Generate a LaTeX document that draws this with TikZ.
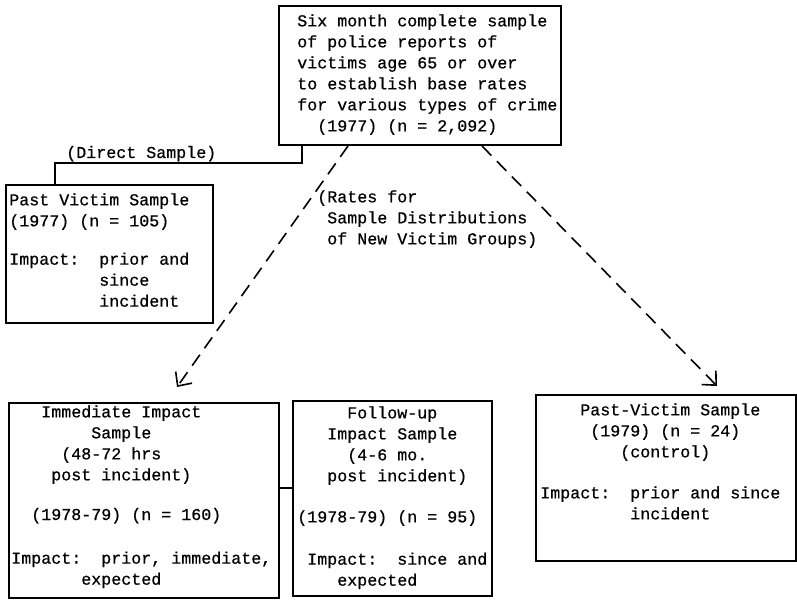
\documentclass[tikz,border=0pt]{standalone}
\usepackage{fontspec}
\newfontfamily\typew[FakeBold=0.6]{Liberation Mono}
\usetikzlibrary{arrows.meta}
\newcommand{\ind}[1]{\hspace*{\dimexpr0.6em*#1\relax}}

\begin{document}
\begin{tikzpicture}[
    x=0.75pt,
    y=-0.75pt,
    box/.style={
        draw,
        line width=1.5pt,
        anchor=north west,
        inner sep=0pt
    },
    txt/.style={
        anchor=north west,
        inner sep=0pt,
        align=left,
        font=\typew\fontsize{12.5}{15.75}\selectfont
    },
    link/.style={line width=1.5pt},
    arrow/.style={-{Straight Barb[length=8pt,width=15pt]}, line width=1.2pt, dash pattern=on 10pt off 6pt}
]
    \path[use as bounding box, fill=white] (0,0) rectangle (797,602);

    \node[box, minimum width=211.5pt, minimum height=104.25pt] (base) at (278,5) {};
    \node[box, minimum width=155.25pt, minimum height=103.5pt] (past) at (5,184) {};
    \node[box, minimum width=202.5pt, minimum height=146.25pt] (imm) at (8,402) {};
    \node[box, minimum width=149.25pt, minimum height=146.25pt] (fol) at (292,400) {};
    \node[box, minimum width=195pt, minimum height=124.5pt] (ctl) at (535,394) {};

    \node[txt] (basetxt) at (297,14) {Six month complete sample\\of police reports of\\victims age 65 or over\\to establish base rates\\for various types of crime\\\ind{2}(1977) (n = 2,092)};
    \node[txt] (pasttxt) at (9,193) {Past Victim Sample\\(1977) (n = 105)\\[13pt]Impact:\ind{2}prior and\\\ind{9}since\\\ind{9}incident};
    \node[txt] (immtxt) at (11,405) {\ind{3}Immediate Impact\\\ind{8}Sample\\\ind{5}(48-72 hrs\\\ind{4}post incident)\\[14pt]\ind{2}(1978-79) (n = 160)\\[17pt]Impact:\ind{2}prior, immediate,\\\ind{7}expected};
    \node[txt] (foltxt) at (297,406) {\ind{5}Follow-up\\\ind{3}Impact Sample\\\ind{5}(4-6 mo.\\\ind{3}post incident)\\[15pt](1978-79) (n = 95)\\[16pt]\ind{1}Impact:\ind{2}since and\\\ind{4}expected};
    \node[txt] (ctltxt) at (540,403) {\ind{4}Past-Victim Sample\\\ind{5}(1979) (n = 24)\\\ind{8}(control)\\[15pt]Impact:\ind{2}prior and since\\\ind{9}incident};

    \node[txt, anchor=base west] (direct) at (66,158) {(Direct Sample)};
    \node[txt] (rates) at (317,190) {(Rates for\\\ind{1}Sample Distributions\\\ind{1}of New Victim Groups)};

    \coordinate (d1) at (302,163);
    \coordinate (d2) at (55,163);
    \draw[link] (base.south -| d1) -- (d1) -- (d2) -- (past.north -| d2);

    \coordinate (m) at (285,488);
    \draw[link] (imm.east |- m) -- (fol.west |- m);

    \coordinate (a0) at (348,0);
    \coordinate (a1) at (177,387);
    \draw[arrow] (base.south -| a0) -- (a1);
    \coordinate (b0) at (482,0);
    \coordinate (b1) at (717,386);
    \draw[arrow] (base.south -| b0) -- (b1);
\end{tikzpicture}
\end{document}
